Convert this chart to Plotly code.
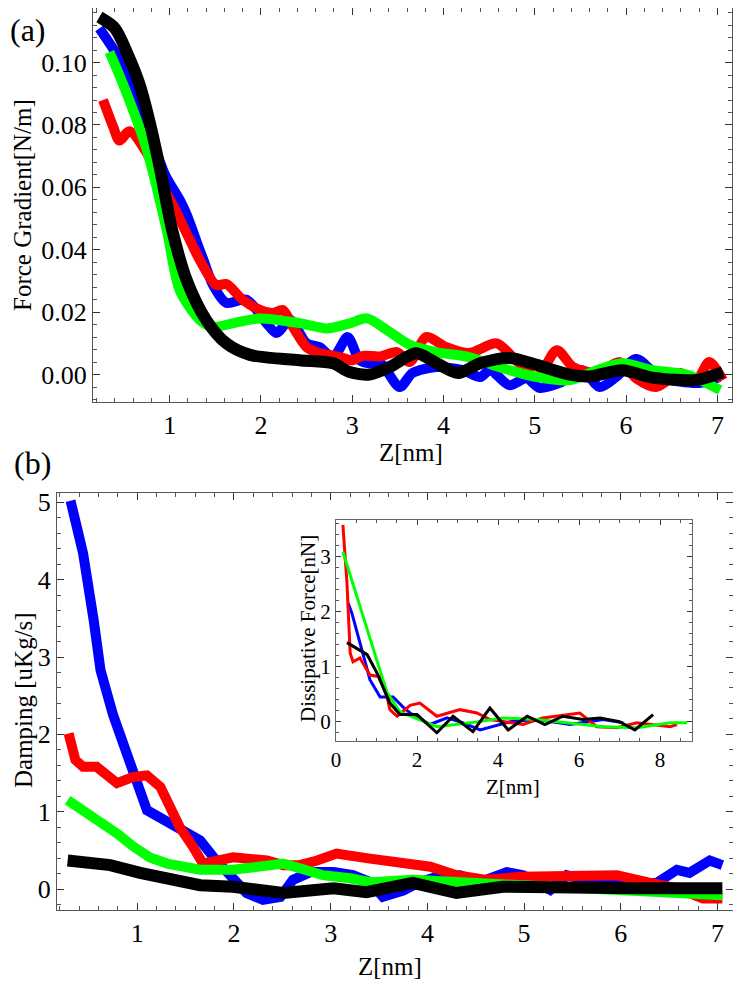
import plotly.graph_objects as go

# ---------------- (a) Force gradient ----------------
a_blue_x = [0.23, 0.45, 0.75, 0.95, 1.11, 1.19, 1.29, 1.37, 1.47, 1.62, 1.84, 2.06, 2.17, 2.32, 2.50, 2.64, 2.79, 2.95, 3.08, 3.19, 3.30, 3.52, 3.66, 3.92, 4.21, 4.40, 4.51, 4.72, 4.91, 5.05, 5.27, 5.52, 5.71, 5.89, 6.11, 6.37, 6.80, 7.02]
a_blue_y = [0.111, 0.101, 0.080, 0.064, 0.056, 0.051, 0.043, 0.0367, 0.029, 0.023, 0.024, 0.0165, 0.0133, 0.0175, 0.010, 0.0088, 0.0056, 0.012, 0.0046, 0.0036, 0.004, -0.004, 0.0005, 0.0024, 0.0014, -0.0008, 0.0014, -0.0034, -0.0012, -0.0043, -0.0027, 0.0014, -0.004, -0.0008, 0.005, -0.0008, -0.0027, -0.0008]

a_red_x = [0.27, 0.38, 0.45, 0.56, 0.75, 0.93, 1.04, 1.19, 1.33, 1.51, 1.62, 1.80, 1.99, 2.13, 2.24, 2.35, 2.50, 2.64, 2.86, 3.00, 3.12, 3.30, 3.49, 3.63, 3.81, 4.03, 4.28, 4.58, 4.76, 5.02, 5.24, 5.42, 5.68, 5.93, 6.11, 6.33, 6.59, 6.77, 6.91, 7.06]
a_red_y = [0.088, 0.0795, 0.075, 0.078, 0.071, 0.060, 0.054, 0.045, 0.0367, 0.0287, 0.029, 0.024, 0.0207, 0.0197, 0.0207, 0.0153, 0.0088, 0.0069, 0.0056, 0.0046, 0.006, 0.0058, 0.0072, 0.004, 0.012, 0.0088, 0.0069, 0.010, 0.0056, -0.0008, 0.0078, 0.0024, 0.0005, 0.004, -0.0012, -0.004, 0.0005, -0.0018, 0.004, -0.0018]

a_green_x = [0.34, 0.49, 0.75, 0.97, 1.11, 1.33, 1.47, 1.69, 1.98, 2.42, 2.72, 2.97, 3.16, 3.38, 3.63, 3.92, 4.28, 4.65, 5.02, 5.38, 5.68, 5.96, 6.29, 6.66, 7.03]
a_green_y = [0.1034, 0.093, 0.072, 0.046, 0.027, 0.0175, 0.0153, 0.0164, 0.018, 0.0165, 0.0148, 0.0164, 0.018, 0.0143, 0.0095, 0.0072, 0.0056, 0.002, -0.0008, -0.0018, 0.0014, 0.0036, 0.0014, 0.0, -0.005]

a_black_x = [0.23, 0.40, 0.55, 0.67, 0.78, 0.89, 1.03, 1.19, 1.40, 1.62, 1.88, 2.42, 2.79, 2.97, 3.19, 3.41, 3.70, 3.92, 4.16, 4.40, 4.72, 5.02, 5.38, 5.60, 5.96, 6.29, 6.77, 7.06]
a_black_y = [0.1146, 0.111, 0.102, 0.093, 0.081, 0.0665, 0.046, 0.030, 0.0175, 0.010, 0.0063, 0.0046, 0.0036, 0.0008, 0.0, 0.0024, 0.0068, 0.0037, 0.0005, 0.0036, 0.0053, 0.0031, 0.0, -0.0006, 0.0014, -0.001, -0.0017, 0.0008]

# ---------------- (b) Damping ----------------
b_blue_x = [0.31, 0.44, 0.55, 0.62, 0.75, 0.89, 1.00, 1.10, 1.27, 1.48, 1.65, 1.79, 1.96, 2.13, 2.30, 2.48, 2.61, 2.79, 3.03, 3.23, 3.41, 3.54, 3.75, 3.92, 4.10, 4.34, 4.54, 4.82, 4.99, 5.27, 5.44, 5.75, 6.02, 6.37, 6.58, 6.71, 6.92, 7.05]
b_blue_y = [5.02, 4.34, 3.47, 2.83, 2.25, 1.80, 1.37, 1.02, 0.89, 0.76, 0.63, 0.41, 0.16, -0.05, -0.14, -0.10, 0.12, 0.22, 0.22, 0.18, 0.09, -0.10, -0.02, 0.09, 0.16, 0.18, 0.09, 0.22, 0.18, -0.01, 0.18, 0.09, 0.08, 0.08, 0.25, 0.21, 0.37, 0.31]

b_red_x = [0.29, 0.36, 0.44, 0.58, 0.79, 0.96, 1.10, 1.24, 1.34, 1.44, 1.58, 1.68, 1.99, 2.34, 2.51, 2.68, 2.86, 3.06, 3.37, 3.75, 4.03, 4.30, 4.61, 4.96, 5.47, 5.96, 6.27, 6.58, 6.85, 7.05]
b_red_y = [2.01, 1.67, 1.58, 1.58, 1.37, 1.45, 1.47, 1.32, 1.06, 0.80, 0.54, 0.33, 0.41, 0.37, 0.31, 0.31, 0.37, 0.46, 0.40, 0.33, 0.29, 0.18, 0.12, 0.16, 0.16, 0.18, 0.09, 0.01, -0.12, -0.12]

b_green_x = [0.28, 0.55, 0.79, 0.96, 1.13, 1.31, 1.48, 1.65, 1.99, 2.34, 2.51, 2.68, 2.92, 3.20, 3.41, 3.85, 4.30, 5.13, 6.16, 7.05]
b_green_y = [1.15, 0.93, 0.72, 0.55, 0.41, 0.33, 0.29, 0.25, 0.25, 0.29, 0.33, 0.27, 0.18, 0.14, 0.09, 0.12, 0.09, 0.03, -0.04, -0.08]

b_black_x = [0.28, 0.72, 1.03, 1.31, 1.65, 1.99, 2.51, 3.03, 3.37, 3.85, 4.30, 4.78, 5.47, 6.16, 7.05]
b_black_y = [0.37, 0.31, 0.21, 0.12, 0.05, 0.03, -0.05, 0.01, -0.04, 0.08, -0.05, 0.03, 0.01, 0.01, 0.01]

# ---------------- inset: Dissipative force ----------------
i_blue_x = [0.30, 0.39, 0.59, 0.84, 1.09, 1.41, 1.65, 1.83, 2.32, 2.74, 3.14, 3.56, 4.30, 4.96, 5.78, 6.60, 7.09]
i_blue_y = [2.16, 1.98, 1.44, 0.76, 0.45, 0.45, 0.27, 0.16, -0.05, 0.07, -0.02, -0.15, 0.0, 0.04, -0.05, 0.04, -0.02]

i_red_x = [0.17, 0.27, 0.35, 0.42, 0.59, 0.84, 1.09, 1.26, 1.33, 1.51, 1.83, 2.07, 2.49, 3.06, 3.48, 3.80, 4.62, 5.10, 6.02, 6.44, 6.94, 7.43, 8.25, 8.42]
i_red_y = [3.58, 2.53, 1.25, 1.09, 1.16, 0.85, 0.82, 0.45, 0.22, 0.10, 0.30, 0.34, 0.10, 0.22, 0.16, 0.04, -0.05, 0.07, 0.16, -0.09, -0.11, -0.02, -0.09, -0.05]

i_green_x = [0.17, 1.26, 1.58, 2.49, 3.31, 4.12, 4.96, 5.78, 6.60, 7.43, 8.25, 8.67]
i_green_y = [3.09, 0.53, 0.18, -0.09, -0.02, 0.07, 0.04, -0.02, -0.09, -0.11, -0.02, -0.02]

i_black_x = [0.27, 0.77, 1.01, 1.33, 1.58, 2.00, 2.49, 2.89, 3.38, 3.80, 4.25, 4.72, 5.16, 5.60, 6.10, 6.52, 7.00, 7.38, 7.83]
i_black_y = [1.44, 1.22, 0.89, 0.34, 0.13, 0.13, -0.20, 0.10, -0.18, 0.25, -0.15, 0.10, -0.05, 0.10, 0.04, 0.07, 0.0, -0.15, 0.13]

BLUE, RED, GREEN, BLACK = "#0000FF", "#FF0000", "#00FF00", "#000000"
FONT = "Times New Roman"

fig = go.Figure()

def add(x, y, color, width, xa, ya, shape="linear"):
    fig.add_trace(go.Scatter(x=x, y=y, mode="lines", xaxis=xa, yaxis=ya,
                             line=dict(color=color, width=width, shape=shape,
                                       smoothing=0.8 if shape == "spline" else None),
                             showlegend=False, hoverinfo="skip"))

add(a_blue_x, a_blue_y, BLUE, 10, "x", "y", "spline")
add(a_red_x, a_red_y, RED, 10, "x", "y", "spline")
add(a_green_x, a_green_y, GREEN, 10, "x", "y", "spline")
add(a_black_x, a_black_y, BLACK, 12, "x", "y", "spline")

add(b_blue_x, b_blue_y, BLUE, 10, "x2", "y2")
add(b_red_x, b_red_y, RED, 10, "x2", "y2")
add(b_green_x, b_green_y, GREEN, 10, "x2", "y2")
add(b_black_x, b_black_y, BLACK, 12, "x2", "y2")

add(i_blue_x, i_blue_y, BLUE, 3, "x3", "y3")
add(i_red_x, i_red_y, RED, 3, "x3", "y3")
add(i_green_x, i_green_y, GREEN, 3, "x3", "y3")
add(i_black_x, i_black_y, BLACK, 3, "x3", "y3")

# the page has an 8px body margin, so the figure sits at page offset (8, 8)
OFF = 8
W, H = 741 - 2 * OFF, 988 - 2 * OFF

def dom(p0, p1, total, flip=False):
    p0 = max(p0 - OFF, 0)
    p1 = min(p1 - OFF, total)
    if flip:
        return [(total - p1) / total, (total - p0) / total]
    return [p0 / total, p1 / total]

def axis(domain, rng, dtick, minor_dtick, anchor, size, fmt=None, linecolor="#555", ticklen=7):
    d = dict(domain=domain, range=rng, dtick=dtick, tick0=0, anchor=anchor,
             automargin=False,
             showline=True, linecolor=linecolor, linewidth=1, mirror="allticks",
             ticks="inside", ticklen=ticklen, tickcolor="#333", tickwidth=1,
             minor=dict(dtick=minor_dtick, ticks="inside", ticklen=ticklen // 2 + 1,
                        tickcolor="#555", showgrid=False),
             showgrid=False, zeroline=False,
             tickfont=dict(family=FONT, size=size, color="black"))
    if fmt:
        d["tickformat"] = fmt
    return d

fig.update_layout(
    template="none",
    font=dict(family=FONT),
    width=W, height=H, margin=dict(l=0, r=0, t=0, b=0, autoexpand=False),
    plot_bgcolor="white", paper_bgcolor="white",
    xaxis=axis(dom(93, 732, W), [0.16, 7.16], 1, 0.2, "y", 26),
    yaxis=axis(dom(8, 402, H, True), [-0.0088, 0.1175], 0.02, 0.004, "x", 26, ".2f"),
    xaxis2=axis(dom(57, 733, W), [0.17, 7.16], 1, 0.2, "y2", 26),
    yaxis2=axis(dom(493, 910, H, True), [-0.27, 5.12], 1, 0.2, "x2", 26),
    xaxis3=axis(dom(336, 692, W), [0.0, 8.79], 2, 0.5, "y3", 21, linecolor="#666", ticklen=5),
    yaxis3=axis(dom(520, 741, H, True), [-0.35, 3.67], 1, 0.2, "x3", 21, linecolor="#666", ticklen=5),
)
fig.update_layout(yaxis3=dict(tickvals=[0, 1, 2, 3]))

def ann(text, px, py, size, angle=0, xanchor="center"):
    fig.add_annotation(text=text, x=(px - OFF) / W, y=1 - (py - OFF) / H,
                       xref="paper", yref="paper",
                       showarrow=False, textangle=angle, xanchor=xanchor, yanchor="middle",
                       font=dict(family=FONT, size=size, color="black"))

ann("(a)", 8, 30, 32, xanchor="left")
ann("(b)", 12, 463, 32, xanchor="left")
ann("Force Gradient[N/m]", 23, 205, 25, angle=-90)
ann("Z[nm]", 411, 452, 25)
ann("Damping [uKg/s]", 23, 700, 25, angle=-90)
ann("Z[nm]", 390, 966, 25)
ann("Dissipative Force[nN]", 308, 629, 21, angle=-90)
ann("Z[nm]", 513, 787, 21)

fig.write_html("out.html")
